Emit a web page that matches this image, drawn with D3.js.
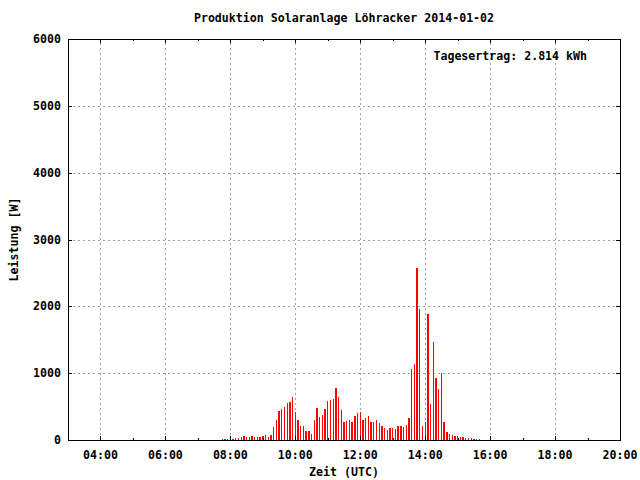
<!DOCTYPE html>
<html>
<head>
<meta charset="utf-8">
<script src="https://cdn.jsdelivr.net/npm/d3@7"></script>
<style>
  html, body { margin: 0; padding: 0; background: #fff; }
  text { font-family: "DejaVu Sans Mono", "Liberation Mono", monospace; font-weight: bold; font-size: 11.6px; fill: #000; }
</style>
</head>
<body>
<svg id="chart" width="640" height="480"></svg>
<script>
const titleText = "Produktion Solaranlage Löhracker 2014-01-02";
const xLabel = "Zeit (UTC)";
const yLabel = "Leistung [W]";
const noteText = "Tagesertrag: 2.814 kWh";

const xDomain = ["03:00", "20:00"];
const yTicks = [0, 1000, 2000, 3000, 4000, 5000, 6000];

const times = [
  "07:45","07:50","07:55","08:00","08:05","08:10","08:15","08:20","08:25","08:30","08:35","08:40",
  "08:45","08:50","08:55","09:00","09:05","09:10","09:15","09:20","09:25","09:30","09:35","09:40",
  "09:45","09:50","09:55","10:00","10:05","10:10","10:15","10:20","10:25","10:30","10:35","10:40",
  "10:45","10:50","10:55","11:00","11:05","11:10","11:15","11:20","11:25","11:30","11:35","11:40",
  "11:45","11:50","11:55","12:00","12:05","12:10","12:15","12:20","12:25","12:30","12:35","12:40",
  "12:45","12:50","12:55","13:00","13:05","13:10","13:15","13:20","13:25","13:30","13:35","13:40",
  "13:45","13:50","13:55","14:00","14:05","14:10","14:15","14:20","14:25","14:30","14:35","14:40",
  "14:45","14:50","14:55","15:00","15:05","15:10","15:15","15:20","15:25","15:30","15:35","15:40"
];
const power = [
  15,15,15,30,15,30,30,45,60,45,45,60,
  45,45,45,60,75,45,75,195,300,435,465,495,
  555,570,645,420,300,210,210,135,135,90,300,480,
  345,375,465,585,600,615,780,645,450,270,285,300,
  270,360,405,420,300,330,360,270,270,300,255,210,
  180,150,180,180,165,210,210,195,225,330,1065,1140,
  2580,1965,210,270,1890,540,1470,930,765,1005,270,120,
  90,75,60,60,45,45,30,30,30,15,15,15
];

const parse = d3.utcParse("%H:%M");
const data = times.map((t, i) => ({ t: parse(t), v: power[i] }));

const W = 640, H = 480;
const m = { left: 68, right: 620, top: 39, bottom: 440 };
const svg = d3.select("#chart");
svg.append("rect").attr("width", W).attr("height", H).attr("fill", "#fff");

const x = d3.scaleUtc().domain(xDomain.map(parse)).range([m.left, m.right]);
const y = d3.scaleLinear().domain([0, 6000]).range([m.bottom, m.top]);

const majorX = x.ticks(d3.utcHour.every(2));
const minorX = x.ticks(d3.utcHour.every(1)).filter(d => d.getUTCHours() % 2 === 1);

// grid
const grid = svg.append("g").attr("stroke", "#a0a0a0").attr("stroke-width", 1)
  .attr("stroke-dasharray", "2,3").attr("shape-rendering", "crispEdges");
grid.selectAll("line.gx").data(majorX.filter(d => x(d) > m.left + 1 && x(d) < m.right - 1)).join("line")
  .attr("x1", d => Math.round(x(d)) + 0.5).attr("x2", d => Math.round(x(d)) + 0.5)
  .attr("y1", m.bottom).attr("y2", m.top);
grid.selectAll("line.gy").data(yTicks.filter(v => v > 0 && v < 6000)).join("line")
  .attr("y1", d => Math.round(y(d)) + 0.5).attr("y2", d => Math.round(y(d)) + 0.5)
  .attr("x1", m.left).attr("x2", m.right);

// bars
const step = x(parse("08:05")) - x(parse("08:00"));
const bw = step * 0.5;
svg.append("g").attr("fill", "#ff0000").attr("shape-rendering", "crispEdges")
  .selectAll("rect").data(data).join("rect")
  .attr("x", d => x(d.t) - bw / 2)
  .attr("width", bw)
  .attr("y", d => y(d.v))
  .attr("height", d => y(0) - y(d.v));

// ticks (inward, mirrored)
const tk = svg.append("g").attr("stroke", "#000").attr("stroke-width", 1).attr("shape-rendering", "crispEdges");
const xt = (arr, len) => {
  arr.forEach(d => {
    const px = Math.round(x(d)) + 0.5;
    tk.append("line").attr("x1", px).attr("x2", px).attr("y1", m.bottom).attr("y2", m.bottom - len);
    tk.append("line").attr("x1", px).attr("x2", px).attr("y1", m.top).attr("y2", m.top + len);
  });
};
xt(majorX, 4);
xt(minorX, 2);
yTicks.forEach(v => {
  const py = Math.round(y(v)) + 0.5;
  tk.append("line").attr("x1", m.left).attr("x2", m.left + 4).attr("y1", py).attr("y2", py);
  tk.append("line").attr("x1", m.right).attr("x2", m.right - 4).attr("y1", py).attr("y2", py);
});

// border
svg.append("rect").attr("x", m.left + 0.5).attr("y", m.top + 0.5)
  .attr("width", m.right - m.left).attr("height", m.bottom - m.top)
  .attr("fill", "none").attr("stroke", "#000").attr("stroke-width", 1).attr("shape-rendering", "crispEdges");

// tick labels
const fmt = d3.utcFormat("%H:%M");
svg.append("g").selectAll("text").data(majorX).join("text")
  .attr("x", d => x(d)).attr("y", 459).attr("text-anchor", "middle").text(d => fmt(d));
svg.append("g").selectAll("text").data(yTicks).join("text")
  .attr("x", 61).attr("y", d => y(d) + 4).attr("text-anchor", "end").text(d => d);

// labels
svg.append("text").attr("x", (m.left + m.right) / 2).attr("y", 22).attr("text-anchor", "middle").text(titleText);
svg.append("text").attr("x", (m.left + m.right) / 2).attr("y", 476).attr("text-anchor", "middle").text(xLabel);
svg.append("text").attr("transform", "translate(18," + ((m.top + m.bottom) / 2) + ") rotate(-90)")
  .attr("text-anchor", "middle").text(yLabel);
svg.append("text").attr("x", 587).attr("y", 60).attr("text-anchor", "end").text(noteText);
</script>
</body>
</html>
